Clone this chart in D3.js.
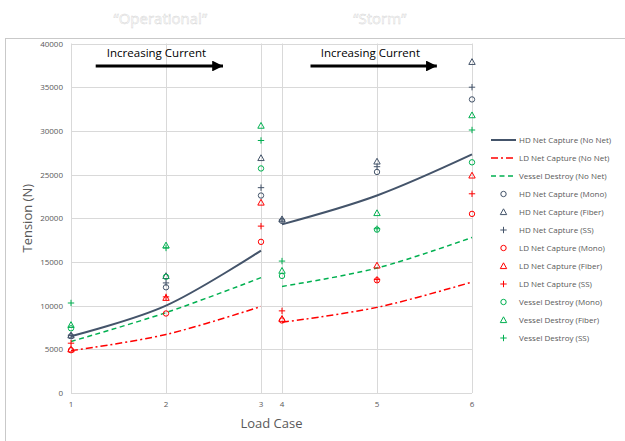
<!DOCTYPE html>
<html>
<head>
<meta charset="utf-8">
<script src="https://cdn.jsdelivr.net/npm/d3@7"></script>
<style>
  body { margin: 0; background: #fff; }
  svg { display: block; font-family: "Open Sans", sans-serif; }
</style>
</head>
<body>
<svg width="625" height="441"></svg>
<script>
// load cases and the two groups they are drawn in
const cases = [1, 2, 3, 4, 5, 6];
const groups = [[1, 2, 3], [4, 5, 6]];
const yTicks = [0, 5000, 10000, 15000, 20000, 25000, 30000, 35000, 40000];

// smoothed lines (no net)
const hdNoNet = [6500, 10000, 16300, 19300, 22600, 27300];
const ldNoNet = [4850, 6700, 9900, 8100, 9800, 12700];
const vdNoNet = [5900, 9200, 13200, 12200, 14300, 17800];

// markers
const hdMono  = [6500, 12100, 22600, 19700, 25300, 33600];
const hdFiber = [6600, 13400, 26900, 19900, 26500, 37900];
const hdSS    = [6600, 12600, 23500, 19800, 25900, 35000];
const ldMono  = [4900, 9100, 17300, 8300, 12900, 20500];
const ldFiber = [5000, 10900, 21800, 8500, 14600, 24900];
const ldSS    = [5700, 11000, 19100, 9400, 13000, 22800];
const vdMono  = [7400, 13300, 25700, 13400, 18700, 26400];
const vdFiber = [7800, 16900, 30600, 14000, 20600, 31800];
const vdSS    = [10300, 16600, 28900, 15100, 18800, 30100];

const navy = "#44546a", red = "#ff0000", green = "#00b050";

const lineSeries = [
  {name: "HD Net Capture (No Net)", values: hdNoNet, color: navy, width: 2, dash: null},
  {name: "LD Net Capture (No Net)", values: ldNoNet, color: red, width: 1.5, dash: "7,3,2,3"},
  {name: "Vessel Destroy (No Net)", values: vdNoNet, color: green, width: 1.5, dash: "5,3.5"}
];
const markerSeries = [
  {name: "HD Net Capture (Mono)", values: hdMono, color: navy, shape: "circle"},
  {name: "HD Net Capture (Fiber)", values: hdFiber, color: navy, shape: "triangle"},
  {name: "HD Net Capture (SS)", values: hdSS, color: navy, shape: "plus"},
  {name: "LD Net Capture (Mono)", values: ldMono, color: red, shape: "circle"},
  {name: "LD Net Capture (Fiber)", values: ldFiber, color: red, shape: "triangle"},
  {name: "LD Net Capture (SS)", values: ldSS, color: red, shape: "plus"},
  {name: "Vessel Destroy (Mono)", values: vdMono, color: green, shape: "circle"},
  {name: "Vessel Destroy (Fiber)", values: vdFiber, color: green, shape: "triangle"},
  {name: "Vessel Destroy (SS)", values: vdSS, color: green, shape: "plus"}
];

var svg = d3.select("svg");
var plotLeft = 71, step = 95, gap = 21, plotTop = 43.5, plotBottom = 393;

// cases 3 and 4 sit close together
var x = d3.scaleLinear()
  .domain([1, 3, 4, 6])
  .range([plotLeft, plotLeft + 2 * step, plotLeft + 2 * step + gap, plotLeft + 4 * step + gap]);
var y = d3.scaleLinear().domain([0, 40000]).range([plotBottom, plotTop]);

// outer frame
svg.append("rect")
  .attr("x", 5.5).attr("y", 38.5).attr("width", 640).attr("height", 420)
  .attr("fill", "none").attr("stroke", "#c9c9c9");

// grid
svg.append("g").selectAll("line").data(yTicks).enter().append("line")
  .attr("x1", x(1)).attr("x2", x(6))
  .attr("y1", d => Math.round(y(d)) + 0.5).attr("y2", d => Math.round(y(d)) + 0.5)
  .attr("stroke", "#d9d9d9");
svg.append("g").selectAll("line").data(cases).enter().append("line")
  .attr("x1", d => Math.round(x(d)) + 0.5).attr("x2", d => Math.round(x(d)) + 0.5)
  .attr("y1", y(40000)).attr("y2", y(0))
  .attr("stroke", "#d9d9d9");

// tick labels
svg.append("g").selectAll("text").data(yTicks).enter().append("text")
  .attr("x", plotLeft - 8).attr("y", d => y(d) + 3)
  .attr("text-anchor", "end").attr("font-size", 8).attr("fill", "#595959")
  .text(d => d);
svg.append("g").selectAll("text").data(cases).enter().append("text")
  .attr("x", d => x(d)).attr("y", plotBottom + 14)
  .attr("text-anchor", "middle").attr("font-size", 8).attr("fill", "#595959")
  .text(d => d);

// axis titles
svg.append("text")
  .attr("x", (x(1) + x(6)) / 2).attr("y", 428)
  .attr("text-anchor", "middle").attr("font-size", 13).attr("fill", "#595959")
  .text("Load Case");
svg.append("text")
  .attr("transform", "translate(32," + (plotTop + plotBottom) / 2 + ") rotate(-90)")
  .attr("text-anchor", "middle").attr("font-size", 13).attr("fill", "#595959")
  .text("Tension (N)");

// regime titles above the frame
[["“Operational”", 1.94], ["“Storm”", 5.03]].forEach(function(t) {
  svg.append("text")
    .attr("x", x(t[1])).attr("y", 24)
    .attr("text-anchor", "middle").attr("font-size", 15)
    .attr("fill", "#fff").attr("stroke", "#d4d4d4").attr("stroke-width", 0.45)
    .text(t[0]);
});

// "Increasing Current" arrows
svg.append("defs").append("marker")
  .attr("id", "head").attr("viewBox", "0 0 10 10")
  .attr("refX", 10).attr("refY", 5)
  .attr("markerWidth", 4.5).attr("markerHeight", 3.6)
  .attr("orient", "auto").attr("markerUnits", "strokeWidth")
  .append("path").attr("d", "M0,0L10,5L0,10Z").attr("fill", "#000");

[[1.26, 2.6, 1.9], [4.3, 5.63, 4.93]].forEach(function(a) {
  svg.append("line")
    .attr("x1", x(a[0])).attr("x2", x(a[1]))
    .attr("y1", 66).attr("y2", 66)
    .attr("stroke", "#000").attr("stroke-width", 3)
    .attr("marker-end", "url(#head)");
  svg.append("text")
    .attr("x", x(a[2])).attr("y", 57)
    .attr("text-anchor", "middle").attr("font-size", 11.5).attr("fill", "#000")
    .text("Increasing Current");
});

// smoothed lines, one piece per group
var line = d3.line()
  .x(d => x(d[0])).y(d => y(d[1]))
  .curve(d3.curveCardinal.tension(0));

lineSeries.forEach(function(s) {
  groups.forEach(function(g) {
    var pts = g.map(c => [c, s.values[cases.indexOf(c)]]);
    svg.append("path")
      .attr("d", line(pts))
      .attr("fill", "none")
      .attr("stroke", s.color)
      .attr("stroke-width", s.width)
      .attr("stroke-dasharray", s.dash);
  });
});

function drawMarker(g, shape, color, cx, cy) {
  if (shape === "circle") {
    g.append("circle").attr("cx", cx).attr("cy", cy).attr("r", 2.7)
      .attr("fill", "none").attr("stroke", color).attr("stroke-width", 1);
  } else if (shape === "triangle") {
    g.append("path")
      .attr("d", "M" + cx + "," + (cy - 3.2) + "L" + (cx + 3.2) + "," + (cy + 2.6) + "L" + (cx - 3.2) + "," + (cy + 2.6) + "Z")
      .attr("fill", "none").attr("stroke", color).attr("stroke-width", 1);
  } else {
    g.append("path")
      .attr("d", "M" + (cx - 3.2) + "," + cy + "H" + (cx + 3.2) + "M" + cx + "," + (cy - 3.2) + "V" + (cy + 3.2))
      .attr("fill", "none").attr("stroke", color).attr("stroke-width", 1);
  }
}

var marks = svg.append("g");
markerSeries.forEach(function(s) {
  s.values.forEach(function(v, i) {
    drawMarker(marks, s.shape, s.color, x(cases[i]), y(v));
  });
});

// legend
var legend = svg.append("g").attr("transform", "translate(491,140)");
var rowH = 18;
lineSeries.forEach(function(s, i) {
  legend.append("line")
    .attr("x1", 0).attr("x2", 25).attr("y1", i * rowH).attr("y2", i * rowH)
    .attr("stroke", s.color).attr("stroke-width", s.width)
    .attr("stroke-dasharray", s.dash);
  legend.append("text")
    .attr("x", 28).attr("y", i * rowH + 3)
    .attr("font-size", 8).attr("fill", "#595959")
    .text(s.name);
});
markerSeries.forEach(function(s, j) {
  var i = j + lineSeries.length;
  drawMarker(legend, s.shape, s.color, 12.5, i * rowH);
  legend.append("text")
    .attr("x", 28).attr("y", i * rowH + 3)
    .attr("font-size", 8).attr("fill", "#595959")
    .text(s.name);
});
</script>
</body>
</html>
